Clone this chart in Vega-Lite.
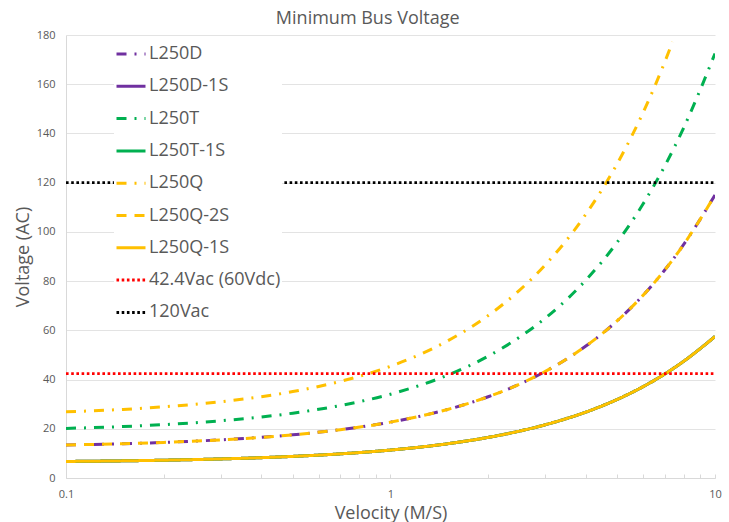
{
  "$schema": "https://vega.github.io/schema/vega-lite/v6.json",
  "width": 649,
  "height": 443,
  "autosize": {"type": "none"},
  "padding": {"left": 66, "top": 35, "right": 14, "bottom": 44},
  "background": "white",
  "title": {"text": "Minimum Bus Voltage", "fontSize": 18, "font": "Open Sans", "fontWeight": "normal", "color": "#595959", "offset": 1, "anchor": "middle", "frame": "bounds"},
  "config": {"view": {"stroke": null}, "font": "Open Sans"},
  "datasets": {
    "curves": [
      {"s": "L250D", "v": 0.1, "V": 13.43}, {"s": "L250D", "v": 0.15, "V": 13.94}, {"s": "L250D", "v": 0.2, "V": 14.46}, {"s": "L250D", "v": 0.3, "V": 15.5}, {"s": "L250D", "v": 0.4, "V": 16.52}, {"s": "L250D", "v": 0.5, "V": 17.56}, {"s": "L250D", "v": 0.7, "V": 19.62}, {"s": "L250D", "v": 1, "V": 22.7}, {"s": "L250D", "v": 1.5, "V": 27.86}, {"s": "L250D", "v": 2, "V": 33.0}, {"s": "L250D", "v": 2.5, "V": 38.16}, {"s": "L250D", "v": 3, "V": 43.3}, {"s": "L250D", "v": 4, "V": 53.6}, {"s": "L250D", "v": 5, "V": 63.9}, {"s": "L250D", "v": 6, "V": 74.2}, {"s": "L250D", "v": 7, "V": 84.5}, {"s": "L250D", "v": 8, "V": 94.8}, {"s": "L250D", "v": 9, "V": 105.1}, {"s": "L250D", "v": 10, "V": 115.0},
      {"s": "L250D-1S", "v": 0.1, "V": 6.72}, {"s": "L250D-1S", "v": 0.15, "V": 6.97}, {"s": "L250D-1S", "v": 0.2, "V": 7.23}, {"s": "L250D-1S", "v": 0.3, "V": 7.75}, {"s": "L250D-1S", "v": 0.4, "V": 8.26}, {"s": "L250D-1S", "v": 0.5, "V": 8.78}, {"s": "L250D-1S", "v": 0.7, "V": 9.81}, {"s": "L250D-1S", "v": 1, "V": 11.35}, {"s": "L250D-1S", "v": 1.5, "V": 13.93}, {"s": "L250D-1S", "v": 2, "V": 16.5}, {"s": "L250D-1S", "v": 2.5, "V": 19.08}, {"s": "L250D-1S", "v": 3, "V": 21.65}, {"s": "L250D-1S", "v": 4, "V": 26.8}, {"s": "L250D-1S", "v": 5, "V": 31.95}, {"s": "L250D-1S", "v": 6, "V": 37.1}, {"s": "L250D-1S", "v": 7, "V": 42.25}, {"s": "L250D-1S", "v": 8, "V": 47.4}, {"s": "L250D-1S", "v": 9, "V": 52.55}, {"s": "L250D-1S", "v": 10, "V": 57.5},
      {"s": "L250T", "v": 0.1, "V": 20.15}, {"s": "L250T", "v": 0.15, "V": 20.91}, {"s": "L250T", "v": 0.2, "V": 21.69}, {"s": "L250T", "v": 0.3, "V": 23.25}, {"s": "L250T", "v": 0.4, "V": 24.78}, {"s": "L250T", "v": 0.5, "V": 26.34}, {"s": "L250T", "v": 0.7, "V": 29.43}, {"s": "L250T", "v": 1, "V": 34.05}, {"s": "L250T", "v": 1.5, "V": 41.79}, {"s": "L250T", "v": 2, "V": 49.5}, {"s": "L250T", "v": 2.5, "V": 57.24}, {"s": "L250T", "v": 3, "V": 64.95}, {"s": "L250T", "v": 4, "V": 80.4}, {"s": "L250T", "v": 5, "V": 95.85}, {"s": "L250T", "v": 6, "V": 111.3}, {"s": "L250T", "v": 7, "V": 126.75}, {"s": "L250T", "v": 8, "V": 142.2}, {"s": "L250T", "v": 9, "V": 157.65}, {"s": "L250T", "v": 10, "V": 172.5},
      {"s": "L250T-1S", "v": 0.1, "V": 6.72}, {"s": "L250T-1S", "v": 0.15, "V": 6.97}, {"s": "L250T-1S", "v": 0.2, "V": 7.23}, {"s": "L250T-1S", "v": 0.3, "V": 7.75}, {"s": "L250T-1S", "v": 0.4, "V": 8.26}, {"s": "L250T-1S", "v": 0.5, "V": 8.78}, {"s": "L250T-1S", "v": 0.7, "V": 9.81}, {"s": "L250T-1S", "v": 1, "V": 11.35}, {"s": "L250T-1S", "v": 1.5, "V": 13.93}, {"s": "L250T-1S", "v": 2, "V": 16.5}, {"s": "L250T-1S", "v": 2.5, "V": 19.08}, {"s": "L250T-1S", "v": 3, "V": 21.65}, {"s": "L250T-1S", "v": 4, "V": 26.8}, {"s": "L250T-1S", "v": 5, "V": 31.95}, {"s": "L250T-1S", "v": 6, "V": 37.1}, {"s": "L250T-1S", "v": 7, "V": 42.25}, {"s": "L250T-1S", "v": 8, "V": 47.4}, {"s": "L250T-1S", "v": 9, "V": 52.55}, {"s": "L250T-1S", "v": 10, "V": 57.5},
      {"s": "L250Q", "v": 0.1, "V": 26.88}, {"s": "L250Q", "v": 0.15, "V": 27.88}, {"s": "L250Q", "v": 0.2, "V": 28.92}, {"s": "L250Q", "v": 0.3, "V": 31.0}, {"s": "L250Q", "v": 0.4, "V": 33.04}, {"s": "L250Q", "v": 0.5, "V": 35.12}, {"s": "L250Q", "v": 0.7, "V": 39.24}, {"s": "L250Q", "v": 1, "V": 45.4}, {"s": "L250Q", "v": 1.5, "V": 55.72}, {"s": "L250Q", "v": 2, "V": 66.0}, {"s": "L250Q", "v": 2.5, "V": 76.32}, {"s": "L250Q", "v": 3, "V": 86.6}, {"s": "L250Q", "v": 4, "V": 107.2}, {"s": "L250Q", "v": 5, "V": 127.8}, {"s": "L250Q", "v": 6, "V": 148.4}, {"s": "L250Q", "v": 7, "V": 169.0}, {"s": "L250Q", "v": 7.4, "V": 177.2},
      {"s": "L250Q-2S", "v": 0.1, "V": 13.43}, {"s": "L250Q-2S", "v": 0.15, "V": 13.94}, {"s": "L250Q-2S", "v": 0.2, "V": 14.46}, {"s": "L250Q-2S", "v": 0.3, "V": 15.5}, {"s": "L250Q-2S", "v": 0.4, "V": 16.52}, {"s": "L250Q-2S", "v": 0.5, "V": 17.56}, {"s": "L250Q-2S", "v": 0.7, "V": 19.62}, {"s": "L250Q-2S", "v": 1, "V": 22.7}, {"s": "L250Q-2S", "v": 1.5, "V": 27.86}, {"s": "L250Q-2S", "v": 2, "V": 33.0}, {"s": "L250Q-2S", "v": 2.5, "V": 38.16}, {"s": "L250Q-2S", "v": 3, "V": 43.3}, {"s": "L250Q-2S", "v": 4, "V": 53.6}, {"s": "L250Q-2S", "v": 5, "V": 63.9}, {"s": "L250Q-2S", "v": 6, "V": 74.2}, {"s": "L250Q-2S", "v": 7, "V": 84.5}, {"s": "L250Q-2S", "v": 8, "V": 94.8}, {"s": "L250Q-2S", "v": 9, "V": 105.1}, {"s": "L250Q-2S", "v": 10, "V": 115.0},
      {"s": "L250Q-1S", "v": 0.1, "V": 6.72}, {"s": "L250Q-1S", "v": 0.15, "V": 6.97}, {"s": "L250Q-1S", "v": 0.2, "V": 7.23}, {"s": "L250Q-1S", "v": 0.3, "V": 7.75}, {"s": "L250Q-1S", "v": 0.4, "V": 8.26}, {"s": "L250Q-1S", "v": 0.5, "V": 8.78}, {"s": "L250Q-1S", "v": 0.7, "V": 9.81}, {"s": "L250Q-1S", "v": 1, "V": 11.35}, {"s": "L250Q-1S", "v": 1.5, "V": 13.93}, {"s": "L250Q-1S", "v": 2, "V": 16.5}, {"s": "L250Q-1S", "v": 2.5, "V": 19.08}, {"s": "L250Q-1S", "v": 3, "V": 21.65}, {"s": "L250Q-1S", "v": 4, "V": 26.8}, {"s": "L250Q-1S", "v": 5, "V": 31.95}, {"s": "L250Q-1S", "v": 6, "V": 37.1}, {"s": "L250Q-1S", "v": 7, "V": 42.25}, {"s": "L250Q-1S", "v": 8, "V": 47.4}, {"s": "L250Q-1S", "v": 9, "V": 52.55}, {"s": "L250Q-1S", "v": 10, "V": 57.5},
      {"s": "42.4Vac (60Vdc)", "v": 0.1, "V": 42.4}, {"s": "42.4Vac (60Vdc)", "v": 10, "V": 42.4},
      {"s": "120Vac", "v": 0.1, "V": 120}, {"s": "120Vac", "v": 10, "V": 120}
    ]
  },
  "data": {"name": "curves"},
  "encoding": {
    "x": {
      "field": "v", "type": "quantitative",
      "scale": {"type": "log", "domain": [0.1, 10]},
      "axis": {
        "title": "Velocity (M/S)",
        "values": [0.1, 0.2, 0.3, 0.4, 0.5, 0.6, 0.7, 0.8, 0.9, 1, 2, 3, 4, 5, 6, 7, 8, 9, 10],
        "labelExpr": "datum.value < 0.15 ? '0.1' : (datum.value > 0.95 && datum.value < 1.05 ? '1' : (datum.value > 9.5 ? '10' : ''))",
        "grid": false, "domainColor": "#D9D9D9", "tickColor": "#D9D9D9", "tickSize": -4,
        "labelColor": "#595959", "labelFontSize": 11, "labelPadding": 14, "labelFlush": false,
        "titleFontSize": 18, "titleColor": "#595959", "titleFontWeight": "normal", "titlePadding": 5
      }
    },
    "y": {
      "field": "V", "type": "quantitative",
      "scale": {"domain": [0, 180]},
      "axis": {
        "title": "Voltage (AC)",
        "values": [0, 20, 40, 60, 80, 100, 120, 140, 160, 180],
        "ticks": false, "tickSize": 0, "domainColor": "#D9D9D9", "gridColor": "#E3E3E3",
        "labelColor": "#595959", "labelFontSize": 11, "labelPadding": 11,
        "titleFontSize": 18, "titleColor": "#595959", "titleFontWeight": "normal", "titlePadding": 4
      }
    },
    "color": {
      "field": "s", "type": "nominal",
      "scale": {
        "domain": ["L250D", "L250D-1S", "L250T", "L250T-1S", "L250Q", "L250Q-2S", "L250Q-1S", "42.4Vac (60Vdc)", "120Vac"],
        "range": ["#7030A0", "#7030A0", "#00B050", "#00B050", "#FFC000", "#FFC000", "#FFC000", "#FF0000", "#000000"]
      },
      "legend": {
        "title": null, "orient": "none", "legendX": 48, "legendY": 2, "fillColor": "white", "padding": 1,
        "symbolType": "stroke", "symbolSize": 841, "symbolStrokeWidth": 3,
        "labelFontSize": 18, "labelColor": "#595959", "labelFont": "Open Sans", "labelOffset": 2, "rowPadding": 7.3, "labelLimit": 300
      }
    },
    "strokeDash": {
      "field": "s", "type": "nominal",
      "scale": {
        "domain": ["L250D", "L250D-1S", "L250T", "L250T-1S", "L250Q", "L250Q-2S", "L250Q-1S", "42.4Vac (60Vdc)", "120Vac"],
        "range": [[10, 8, 2, 8], [1, 0], [10, 8, 2, 8], [1, 0], [10, 8, 2, 8], [10, 8], [1, 0], [2.6, 2.6], [2.6, 2.6]]
      },
      "legend": {
        "title": null, "orient": "none", "legendX": 48, "legendY": 2, "fillColor": "white", "padding": 1,
        "symbolType": "stroke", "symbolSize": 841, "symbolStrokeWidth": 3,
        "labelFontSize": 18, "labelColor": "#595959", "labelFont": "Open Sans", "labelOffset": 2, "rowPadding": 7.3, "labelLimit": 300
      }
    }
  },
  "layer": [
    {"transform": [{"filter": {"field": "s", "equal": "L250D"}}], "mark": {"type": "line", "strokeWidth": 3, "interpolate": "monotone", "strokeCap": "butt", "clip": true}},
    {"transform": [{"filter": {"field": "s", "equal": "L250D-1S"}}], "mark": {"type": "line", "strokeWidth": 3, "interpolate": "monotone", "strokeCap": "butt", "clip": true}},
    {"transform": [{"filter": {"field": "s", "equal": "L250T"}}], "mark": {"type": "line", "strokeWidth": 3, "interpolate": "monotone", "strokeCap": "butt", "clip": true}},
    {"transform": [{"filter": {"field": "s", "equal": "L250T-1S"}}], "mark": {"type": "line", "strokeWidth": 3, "interpolate": "monotone", "strokeCap": "butt", "clip": true}},
    {"transform": [{"filter": {"field": "s", "equal": "L250Q"}}], "mark": {"type": "line", "strokeWidth": 3, "interpolate": "monotone", "strokeCap": "butt", "clip": true}},
    {"transform": [{"filter": {"field": "s", "equal": "L250Q-2S"}}], "mark": {"type": "line", "strokeWidth": 3, "interpolate": "monotone", "strokeCap": "butt", "clip": true}},
    {"transform": [{"filter": {"field": "s", "equal": "L250Q-1S"}}], "mark": {"type": "line", "strokeWidth": 3, "interpolate": "monotone", "strokeCap": "butt", "clip": true}},
    {"transform": [{"filter": {"field": "s", "equal": "42.4Vac (60Vdc)"}}], "mark": {"type": "line", "strokeWidth": 2.6, "strokeCap": "butt", "clip": true}},
    {"transform": [{"filter": {"field": "s", "equal": "120Vac"}}], "mark": {"type": "line", "strokeWidth": 2.6, "strokeCap": "butt", "clip": true}}
  ]
}
